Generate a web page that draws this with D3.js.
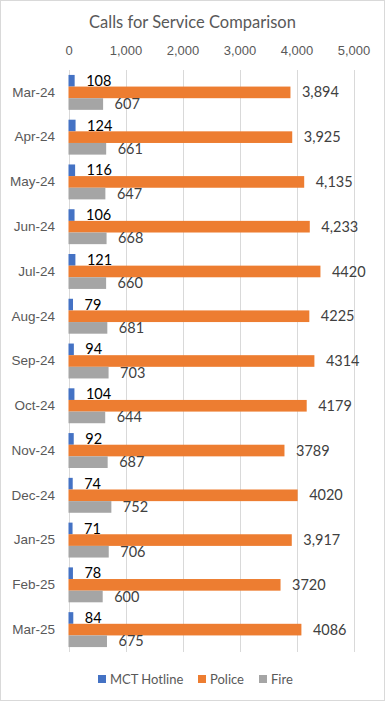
<!DOCTYPE html>
<html>
<head>
<meta charset="utf-8">
<script src="https://cdn.jsdelivr.net/npm/d3@7"></script>
<style>
  body { margin: 0; background: #fff; }
  svg { display: block; font-family: Lato, "Open Sans", sans-serif; }
</style>
</head>
<body>
<div id="chart"></div>
<script>
// months shown down the left side
var months = ["Mar-24", "Apr-24", "May-24", "Jun-24", "Jul-24", "Aug-24", "Sep-24",
              "Oct-24", "Nov-24", "Dec-24", "Jan-25", "Feb-25", "Mar-25"];

var mct    = [108, 124, 116, 106, 121, 79, 94, 104, 92, 74, 71, 78, 84];
var police = [3894, 3925, 4135, 4233, 4420, 4225, 4314, 4179, 3789, 4020, 3917, 3720, 4086];
var fire   = [607, 661, 647, 668, 660, 681, 703, 644, 687, 752, 706, 600, 675];

// police labels are not formatted the same way in the original
var policeLabels = ["3,894", "3,925", "4,135", "4,233", "4420", "4225", "4314",
                    "4179", "3789", "4020", "3,917", "3720", "4086"];

var ticks = [0, 1000, 2000, 3000, 4000, 5000];
var seriesNames = ["MCT Hotline", "Police", "Fire"];
var colors = ["#4472C4", "#ED7D31", "#A5A5A5"];

var width = 385, height = 701;

var svg = d3.select("#chart").append("svg")
    .attr("width", width)
    .attr("height", height);

// outer border
svg.append("rect")
    .attr("x", 0.5).attr("y", 0.5)
    .attr("width", width - 1).attr("height", height - 1)
    .attr("fill", "#fff")
    .attr("stroke", "#d9d9d9");

svg.append("text")
    .attr("x", 192.5).attr("y", 28)
    .attr("text-anchor", "middle")
    .attr("font-size", 16.5)
    .attr("fill", "#595959")
    .text("Calls for Service Comparison");

var x = d3.scaleLinear().domain([0, 5000]).range([68.5, 353.5]);
var y = d3.scaleBand().domain(months).range([70, 652]).paddingInner(0.22).paddingOuter(0.11);
var sub = d3.scaleBand().domain(seriesNames).range([0, y.bandwidth()]);

// gridlines
svg.append("g").selectAll("line")
    .data(ticks)
    .enter().append("line")
    .attr("x1", function(d) { return Math.round(x(d)) + 0.5; })
    .attr("x2", function(d) { return Math.round(x(d)) + 0.5; })
    .attr("y1", 70).attr("y2", 652)
    .attr("stroke", "#d9d9d9");

// top axis
var xaxis = d3.axisTop(x).tickValues(ticks).tickSize(0).tickPadding(0).tickFormat(d3.format(","));
var gx = svg.append("g").attr("transform", "translate(0,55)").call(xaxis);
gx.select(".domain").remove();
gx.selectAll("text").attr("font-size", 13).attr("fill", "#595959").attr("font-family", null);

// category labels
var yaxis = d3.axisLeft(y).tickSize(0).tickPadding(0);
var gy = svg.append("g").attr("transform", "translate(55,0)").call(yaxis);
gy.select(".domain").remove();
gy.selectAll("text").attr("font-size", 13.5).attr("fill", "#595959").attr("font-family", null);

var series = [
  { name: "MCT Hotline", values: mct, labels: mct.map(String), labelColor: "#000" },
  { name: "Police", values: police, labels: policeLabels, labelColor: "#404040" },
  { name: "Fire", values: fire, labels: fire.map(String), labelColor: "#404040" }
];

series.forEach(function(s, si) {
  var g = svg.append("g");
  g.selectAll("rect")
    .data(s.values)
    .enter().append("rect")
    .attr("x", x(0))
    .attr("y", function(d, i) { return y(months[i]) + sub(s.name); })
    .attr("width", function(d) { return x(d) - x(0); })
    .attr("height", sub.bandwidth())
    .attr("fill", colors[si]);

  g.selectAll("text")
    .data(s.values)
    .enter().append("text")
    .attr("x", function(d) { return x(d) + 11.5; })
    .attr("y", function(d, i) { return y(months[i]) + sub(s.name) + sub.bandwidth() / 2; })
    .attr("dy", "0.35em")
    .attr("font-size", 14.5)
    .attr("fill", s.labelColor)
    .text(function(d, i) { return s.labels[i]; });
});

// legend
var legendX = [98, 198, 259];
var leg = svg.append("g").selectAll("g")
    .data(seriesNames)
    .enter().append("g")
    .attr("transform", function(d, i) { return "translate(" + legendX[i] + ",675)"; });
leg.append("rect")
    .attr("width", 8).attr("height", 8)
    .attr("fill", function(d, i) { return colors[i]; });
leg.append("text")
    .attr("x", 12).attr("y", 4)
    .attr("dy", "0.35em")
    .attr("font-size", 13)
    .attr("fill", "#595959")
    .text(function(d) { return d; });
</script>
</body>
</html>
